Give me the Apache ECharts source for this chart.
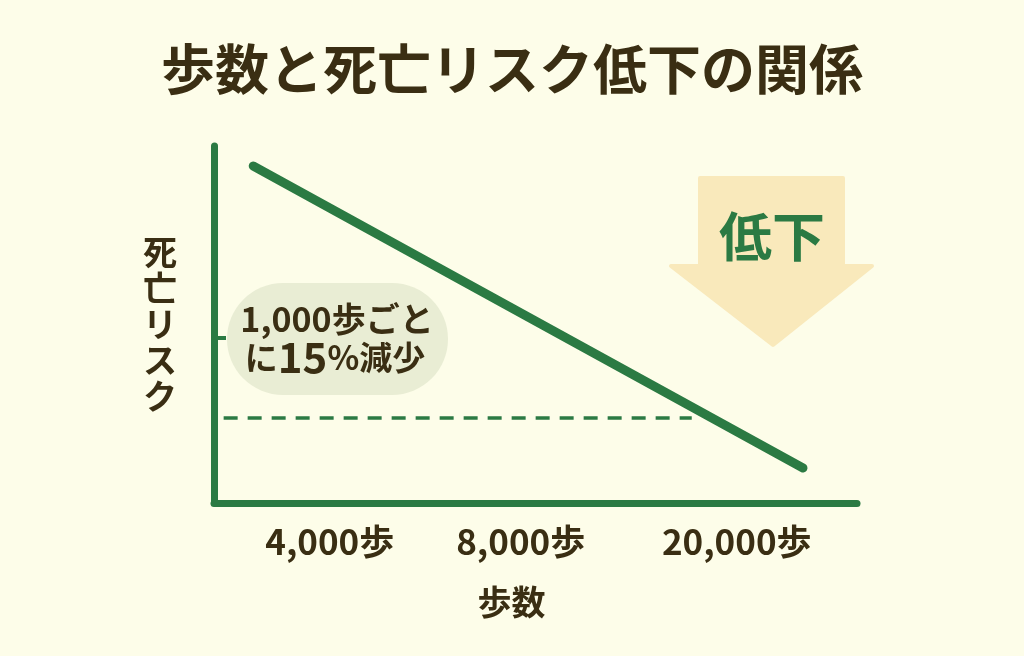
<!DOCTYPE html>
<html>
<head>
<meta charset="utf-8">
<script src="https://cdn.jsdelivr.net/npm/echarts@6/dist/echarts.min.js"></script>
<style>
html,body{margin:0;padding:0;background:#fdfde9;}
#chart{width:1024px;height:656px;}
</style>
</head>
<body>
<div id="chart"></div>
<script>
// ---- data ----
var titleText = '歩数と死亡リスク低下の関係';
var xAxisName = '歩数';
var yAxisName = '死亡リスク';
var stepLabels = ['4,000歩', '8,000歩', '20,000歩'];
var stepLabelPos = [18.0, 47.7, 81.3];          // illustrative x-scale (0-100)
var riskLineX = [6.1, 91.6];
var riskLineY = [94.4, 9.8];
var riskTickY = [46.2];
var refLineY = 23.8;
var refLineX = [1.5, 74.3];
var noteLine1 = '1,000歩ごと';
var noteLine2 = ['に', '15', '%減少'];
var arrowText = '低下';

var GREEN = '#2b7a43';
var BROWN = '#3a2e13';
var FONT = '"Noto Sans CJK JP", "Noto Sans", sans-serif';

var lineData = riskLineX.map(function (x, i) { return [x, riskLineY[i]]; });

var chart = echarts.init(document.getElementById('chart'));
chart.setOption({
  backgroundColor: '#fdfde9',
  animation: false,
  title: {
    text: titleText,
    left: 'center',
    top: 37,
    textStyle: { fontFamily: FONT, fontSize: 54, fontWeight: 'bold', color: BROWN }
  },
  grid: { left: 214, right: 167, top: 146, bottom: 153 },
  xAxis: {
    type: 'value', min: 0, max: 100,
    name: xAxisName, nameLocation: 'middle', nameGap: 82,
    nameTextStyle: { fontFamily: FONT, fontSize: 34, fontWeight: 'bold', color: BROWN, padding: [0, 48, 0, 0] },
    axisLine: { show: true, lineStyle: { color: GREEN, width: 7, cap: 'round' } },
    axisTick: { show: false },
    splitLine: { show: false },
    axisLabel: {
      customValues: stepLabelPos,
      margin: 21,
      fontFamily: FONT, fontSize: 35, fontWeight: 'bold', color: BROWN,
      formatter: function (v) {
        var i = stepLabelPos.indexOf(v);
        return i >= 0 ? stepLabels[i] : '';
      }
    }
  },
  yAxis: {
    type: 'value', min: 0, max: 100,
    name: yAxisName.split('').join('\n'), nameLocation: 'middle', nameGap: 54, nameRotate: 0,
    nameTextStyle: { fontFamily: FONT, fontSize: 34, fontWeight: 'bold', color: BROWN, lineHeight: 36, align: 'center', verticalAlign: 'middle', padding: [22, 0, 0, 0] },
    axisLine: { show: true, lineStyle: { color: GREEN, width: 7, cap: 'round' } },
    axisTick: { show: true, inside: true, length: 12, customValues: riskTickY, lineStyle: { color: GREEN, width: 4 } },
    axisLabel: { show: false },
    splitLine: { show: false }
  },
  series: [{
    type: 'line',
    data: lineData,
    showSymbol: false,
    lineStyle: { color: GREEN, width: 9, cap: 'round' },
    z: 3,
    markLine: {
      silent: true,
      symbol: ['none', 'none'],
      label: { show: false },
      lineStyle: { color: GREEN, width: 3.5, type: [14, 10] },
      data: [[{ coord: [refLineX[0], refLineY] }, { coord: [refLineX[1], refLineY] }]]
    }
  }],
  graphic: [
    {
      type: 'group', left: 227, top: 283,
      children: [
        { type: 'rect', shape: { x: 0, y: 0, width: 221, height: 112, r: 56 }, style: { fill: '#e9edd4' } },
        { type: 'text', x: 110, y: 36, style: {
            text: noteLine1, align: 'center', verticalAlign: 'middle',
            font: 'bold 34px ' + FONT, fill: BROWN } },
        { type: 'text', x: 108, y: 74, style: {
            text: '{a|' + noteLine2[0] + '}{b|' + noteLine2[1] + '}{a|' + noteLine2[2] + '}',
            align: 'center', verticalAlign: 'middle',
            rich: {
              a: { fontFamily: FONT, fontSize: 33, fontWeight: 'bold', fill: BROWN, color: BROWN },
              b: { fontFamily: FONT, fontSize: 42, fontWeight: 'bold', fill: BROWN, color: BROWN }
            } } }
      ]
    },
    {
      type: 'polygon',
      shape: { points: [[700,178],[843,178],[843,266],[872,266],[773,345],[671,266],[700,266]] },
      style: { fill: '#f9e9bb', lineJoin: 'round', stroke: '#f9e9bb', lineWidth: 4 },
      z: 1
    },
    {
      type: 'text', x: 772, y: 237, z: 2,
      style: { text: arrowText, align: 'center', verticalAlign: 'middle', font: 'bold 53px ' + FONT, fill: GREEN }
    }
  ]
});
</script>
</body>
</html>
